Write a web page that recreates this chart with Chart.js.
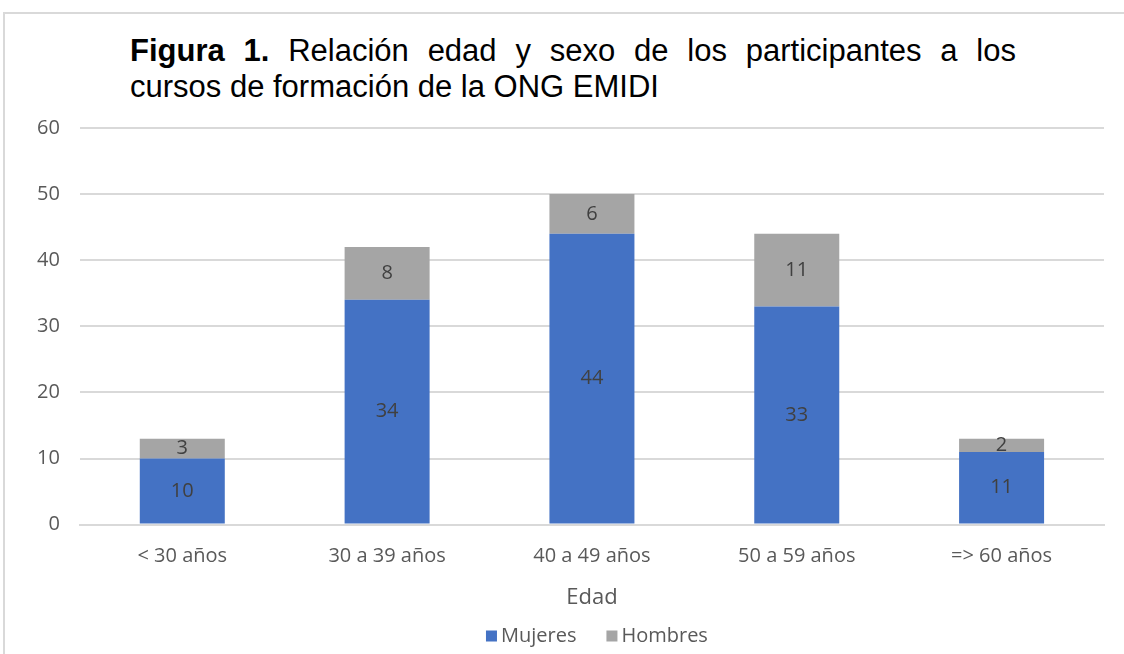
<!DOCTYPE html>
<html>
<head>
<meta charset="utf-8">
<script src="https://cdn.jsdelivr.net/npm/chart.js@4"></script>
<style>
  body { margin: 0; background: #fff; }
  #wrap { position: relative; width: 1124px; height: 654px; overflow: hidden; }
  #frame { position: absolute; left: 3px; top: 12px; width: 1124px; height: 660px; border: 2px solid #d9d9d9; box-sizing: border-box; }
  #title {
    position: absolute; left: 130px; top: 33px; width: 886px;
    font-family: "Liberation Sans", Arial, sans-serif; font-size: 31px; line-height: 36px;
    color: #000;
  }
  #title .l1 { text-align: justify; text-align-last: justify; white-space: nowrap; }
  canvas { position: absolute; left: 0; top: 0; }
</style>
</head>
<body>
<div id="wrap">
  <div id="frame"></div>
  <div id="title"><div class="l1"><b>Figura 1.</b> Relación edad y sexo de los participantes a los</div><div>cursos de formación de la ONG EMIDI</div></div>
  <canvas id="edadChart" width="1124" height="654"></canvas>
</div>
<script>
// categorías y series
const ageGroups = ['< 30 años', '30 a 39 años', '40 a 49 años', '50 a 59 años', '=> 60 años'];
const women = [10, 34, 44, 33, 11];
const men = [3, 8, 6, 11, 2];
const yTicks = [0, 10, 20, 30, 40, 50, 60];

const tickFont = { family: 'Open Sans', size: 20 };

// etiquetas dentro de las barras
const barLabels = {
  id: 'barLabels',
  afterDatasetsDraw(chart) {
    const ctx = chart.ctx;
    ctx.save();
    ctx.fillStyle = '#404040';
    ctx.font = '20px "Open Sans"';
    ctx.textAlign = 'center';
    ctx.textBaseline = 'middle';
    chart.data.datasets.forEach((ds, i) => {
      chart.getDatasetMeta(i).data.forEach((bar, j) => {
        const mid = (bar.y + bar.base) / 2;
        ctx.fillText(String(ds.data[j]), bar.x, mid);
      });
    });
    ctx.restore();
  }
};

// leyenda abajo, estilo Excel (cuadro pegado al texto)
const bottomLegend = {
  id: 'bottomLegend',
  afterDraw(chart) {
    const ctx = chart.ctx;
    ctx.save();
    ctx.font = '20px "Open Sans"';
    ctx.textBaseline = 'middle';
    const items = chart.data.datasets.map(ds => ({ text: ds.label, color: ds.backgroundColor, w: ctx.measureText(ds.label).width }));
    const box = 11, gap = 4, between = 30;
    let total = items.reduce((s, it) => s + box + gap + it.w, 0) + between * (items.length - 1);
    let x = (chart.chartArea.left + chart.chartArea.right) / 2 + 5 - total / 2;
    const y = 636;
    items.forEach(it => {
      ctx.fillStyle = it.color;
      ctx.fillRect(x, y - box / 2, box, box);
      x += box + gap;
      ctx.fillStyle = '#595959';
      ctx.fillText(it.text, x, y);
      x += it.w + between;
    });
    ctx.restore();
  }
};

function createChart() {
  const ctx = document.getElementById('edadChart').getContext('2d');
  new Chart(ctx, {
    type: 'bar',
    data: {
      labels: ageGroups,
      datasets: [
        { label: 'Mujeres', data: women, backgroundColor: '#4472C4', categoryPercentage: 0.83, barPercentage: 0.5 },
        { label: 'Hombres', data: men, backgroundColor: '#A5A5A5', categoryPercentage: 0.83, barPercentage: 0.5 }
      ]
    },
    options: {
      responsive: false,
      animation: false,
      layout: { padding: { top: 128, left: 17, right: 20, bottom: 35 } },
      scales: {
        x: {
          stacked: true,
          grid: { display: false },
          border: { color: '#d9d9d9', width: 2 },
          ticks: { color: '#595959', font: tickFont, padding: 12 },
          title: { display: true, text: 'Edad', color: '#595959', font: { family: 'Open Sans', size: 22 }, padding: { top: 4, bottom: 8 } }
        },
        y: {
          stacked: true,
          min: 0, max: 60,
          afterBuildTicks(axis) { axis.ticks = yTicks.map(v => ({ value: v })); },
          grid: { color: '#d9d9d9', lineWidth: 2, drawTicks: false },
          border: { display: false },
          ticks: { color: '#595959', font: tickFont, padding: 20 }
        }
      },
      plugins: {
        legend: { display: false },
        tooltip: { enabled: false }
      }
    },
    plugins: [barLabels, bottomLegend]
  });
}

window.onload = createChart;
</script>
</body>
</html>
